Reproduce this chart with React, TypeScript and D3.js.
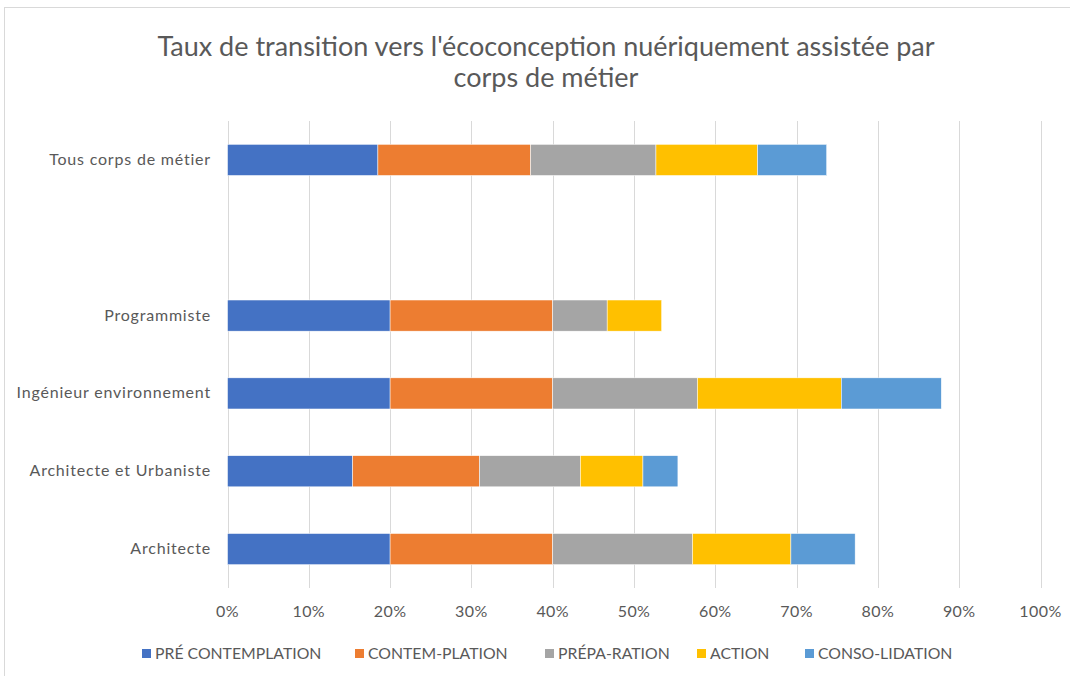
import React, { useRef, useEffect } from 'react';
import * as d3 from 'd3';

// categories top to bottom ("" is the empty spacer row)
const categories = ['Tous corps de métier', '', 'Programmiste', 'Ingénieur environnement', 'Architecte et Urbaniste', 'Architecte'];
const series = ['PRÉ CONTEMPLATION', 'CONTEM-PLATION', 'PRÉPA-RATION', 'ACTION', 'CONSO-LIDATION'];
const preContemplation = [18.5, 0, 20, 20, 15.4, 20];
const contemplation = [18.8, 0, 20, 20, 15.6, 20];
const preparation = [15.4, 0, 6.7, 17.8, 12.4, 17.2];
const action = [12.5, 0, 6.7, 17.7, 7.7, 12.1];
const consolidation = [8.5, 0, 0, 12.3, 4.3, 7.9];
const xTicks = [0, 10, 20, 30, 40, 50, 60, 70, 80, 90, 100];
const colors = ['#4472C4', '#ED7D31', '#A5A5A5', '#FFC000', '#5B9BD5'];
const title = ["Taux de transition vers l'écoconception nuériquement assistée par", 'corps de métier'];

const App: React.FC = () => {
    const svgRef = useRef<SVGSVGElement>(null);

    useEffect(() => {
        if (!svgRef.current) return;
        const width = 1070;
        const height = 676;
        const font = 'Lato, "Open Sans", sans-serif';
        const textColor = '#595959';

        const svg = d3.select(svgRef.current);
        svg.selectAll('*').remove();
        svg.attr('width', width).attr('height', height);

        svg.append('rect')
            .attr('x', 4.5).attr('y', 7.5)
            .attr('width', 1100).attr('height', 700)
            .attr('fill', 'white')
            .attr('stroke', '#d9d9d9');

        // title
        svg.append('text')
            .attr('x', 546).attr('y', 56)
            .attr('text-anchor', 'middle')
            .attr('font-family', font)
            .attr('font-size', 27)
            .attr('fill', textColor)
            .selectAll('tspan')
            .data(title)
            .enter()
            .append('tspan')
            .attr('x', 546)
            .attr('dy', (d, i) => (i === 0 ? 0 : 31))
            .text(d => d);

        const x = d3.scaleLinear().domain([0, 100]).range([227.5, 1040.5]);
        const y = d3.scaleBand().domain(categories).range([121, 588]).paddingInner(0.6).paddingOuter(0.3);

        // grid
        svg.append('g')
            .selectAll('line')
            .data(xTicks)
            .enter()
            .append('line')
            .attr('x1', d => Math.round(x(d)) + 0.5)
            .attr('x2', d => Math.round(x(d)) + 0.5)
            .attr('y1', 121)
            .attr('y2', 588)
            .attr('stroke', '#d9d9d9')
            .attr('stroke-width', 1);

        svg.append('g')
            .selectAll('text')
            .data(xTicks)
            .enter()
            .append('text')
            .attr('x', d => x(d))
            .attr('y', 617)
            .attr('text-anchor', 'middle')
            .attr('font-family', font)
            .attr('font-size', 16)
            .attr('letter-spacing', 0.4)
            .attr('fill', textColor)
            .text(d => `${d}%`);

        // category labels
        svg.append('g')
            .selectAll('text')
            .data(categories)
            .enter()
            .append('text')
            .attr('x', 211)
            .attr('y', d => (y(d) as number) + y.bandwidth() / 2 + 5)
            .attr('text-anchor', 'end')
            .attr('font-family', font)
            .attr('font-size', 16)
            .attr('letter-spacing', 0.8)
            .attr('fill', textColor)
            .text(d => d);

        const rows = categories.map((c, i) => ({
            cat: c,
            s0: preContemplation[i],
            s1: contemplation[i],
            s2: preparation[i],
            s3: action[i],
            s4: consolidation[i],
        }));
        const keys = ['s0', 's1', 's2', 's3', 's4'];
        const stacked = d3.stack<any>().keys(keys)(rows);

        svg.append('g')
            .selectAll('g')
            .data(stacked)
            .enter()
            .append('g')
            .attr('fill', (d, i) => colors[i])
            .selectAll('rect')
            .data(d => d.filter(p => p[1] - p[0] > 0))
            .enter()
            .append('rect')
            .attr('x', d => x(d[0]))
            .attr('width', d => x(d[1]) - x(d[0]))
            .attr('y', d => y(d.data.cat) as number)
            .attr('height', y.bandwidth())
            .attr('stroke', 'white')
            .attr('stroke-width', 0.5);

        // legend
        const legendX = [142, 355, 545, 697, 805];
        const legend = svg.append('g')
            .selectAll('g')
            .data(series)
            .enter()
            .append('g')
            .attr('transform', (d, i) => `translate(${legendX[i]},654)`);
        legend.append('rect')
            .attr('x', 0).attr('y', -5)
            .attr('width', 9).attr('height', 9)
            .attr('fill', (d, i) => colors[i]);
        legend.append('text')
            .attr('x', 13).attr('y', 5)
            .attr('font-family', font)
            .attr('font-size', 15.8)
            .attr('fill', textColor)
            .text(d => d);
    }, []);

    return <svg ref={svgRef} style={{ position: 'absolute', left: 0, top: 0 }}></svg>;
};

export default App;
